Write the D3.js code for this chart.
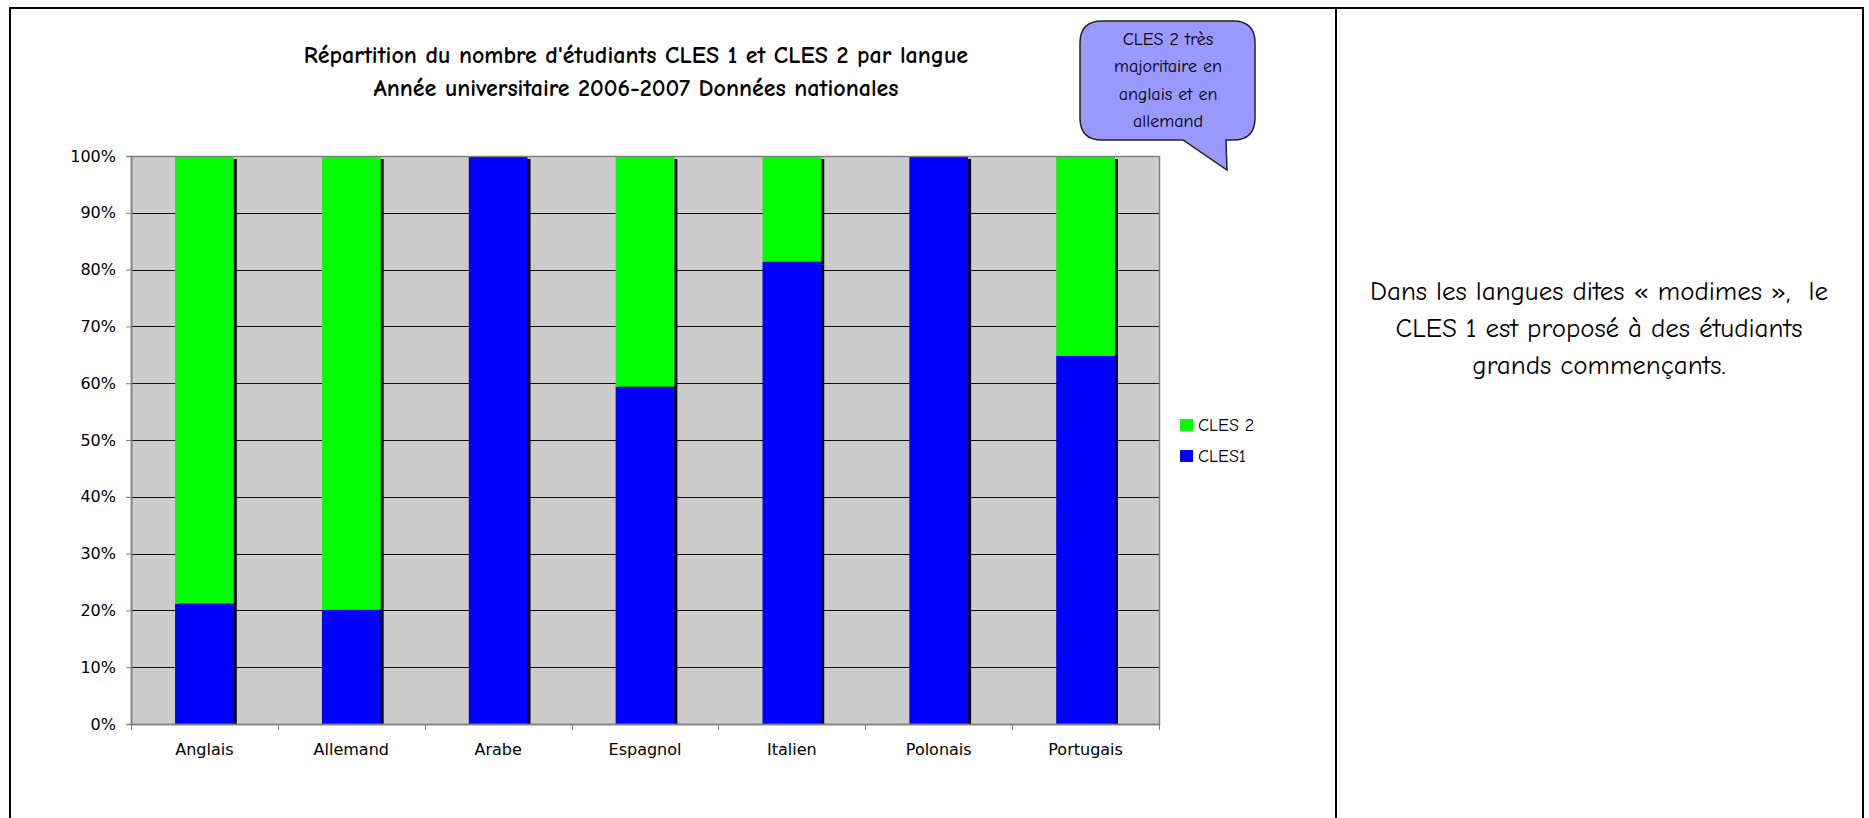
<!DOCTYPE html>
<html>
<head>
<meta charset="utf-8">
<script src="https://cdn.jsdelivr.net/npm/d3@7"></script>
<style>
  body { margin: 0; background: #fff; }
  svg { display: block; }
</style>
</head>
<body>
<div class="graph"></div>
<script>
// data (percent of students per language)
var languages = ["Anglais", "Allemand", "Arabe", "Espagnol", "Italien", "Polonais", "Portugais"];
var cles1 = [21.2, 20.1, 100, 59.4, 81.4, 100, 64.8];
var cles2 = [78.8, 79.9, 0, 40.6, 18.6, 0, 35.2];
var seriesKeys = ["CLES1", "CLES 2"];
var legendOrder = ["CLES 2", "CLES1"];
var yTickValues = [0, 10, 20, 30, 40, 50, 60, 70, 80, 90, 100];
var titleLines = ["Répartition du nombre d'étudiants CLES 1 et CLES 2 par langue",
                  "Année universitaire 2006-2007 Données nationales"];
var bubbleLines = ["CLES 2 très", "majoritaire en", "anglais et en", "allemand"];
var noteLines = ["Dans les langues dites « modimes »,  le",
                 "CLES 1 est proposé à des étudiants",
                 "grands commençants."];

var comic = "'Comic Sans MS', 'Comic Neue', 'Noto Sans', sans-serif";
var verdana = "Verdana, 'DejaVu Sans', sans-serif";
var colors = {"CLES1": "#0000ff", "CLES 2": "#00ff00"};

var svgWidth = 1869, svgHeight = 818;
var plot = {left: 131, right: 1159, top: 156, bottom: 724};

var rows = languages.map(function (l, i) {
    return {lang: l, "CLES1": cles1[i], "CLES 2": cles2[i]};
});

var svg = d3.select("div.graph").append("svg")
    .attr("width", svgWidth)
    .attr("height", svgHeight);

svg.append("rect").attr("width", svgWidth).attr("height", svgHeight).attr("fill", "#fff");

// page frame (table cells)
svg.append("path")
    .attr("d", "M10,830 V8 H1863 V830 M1336,8 V830")
    .attr("fill", "none")
    .attr("stroke", "#000")
    .attr("stroke-width", 2);

var x = d3.scaleBand()
    .domain(languages)
    .range([plot.left, plot.right])
    .paddingInner(0.6)
    .paddingOuter(0.3);

var y = d3.scaleLinear()
    .domain([0, 100])
    .range([plot.bottom, plot.top]);

// plot background
svg.append("rect")
    .attr("x", plot.left).attr("y", plot.top)
    .attr("width", plot.right - plot.left)
    .attr("height", plot.bottom - plot.top)
    .attr("fill", "#cccccc");

// gridlines
svg.append("g").selectAll("line")
    .data(yTickValues.filter(function (d) { return d > 0 && d < 100; }))
    .join("line")
    .attr("x1", plot.left).attr("x2", plot.right)
    .attr("y1", function (d) { return Math.round(y(d)) + 0.5; })
    .attr("y2", function (d) { return Math.round(y(d)) + 0.5; })
    .attr("stroke", "#111")
    .attr("stroke-width", 1);

svg.append("clipPath").attr("id", "plotclip")
    .append("rect")
    .attr("x", plot.left).attr("y", plot.top)
    .attr("width", plot.right - plot.left)
    .attr("height", plot.bottom - plot.top);

var stacked = d3.stack().keys(seriesKeys)(rows);

var segs = [];
stacked.forEach(function (s) {
    s.forEach(function (d) {
        if (d[1] - d[0] > 0) segs.push({key: s.key, lang: d.data.lang, y0: d[0], y1: d[1]});
    });
});

var bars = svg.append("g").attr("clip-path", "url(#plotclip)");

// shadows
bars.selectAll("rect.shadow")
    .data(segs)
    .join("rect")
    .attr("class", "shadow")
    .attr("x", function (d) { return x(d.lang) + 3; })
    .attr("y", function (d) { return y(d.y1) + 3; })
    .attr("width", x.bandwidth())
    .attr("height", function (d) { return y(d.y0) - y(d.y1); })
    .attr("fill", "#000");

bars.selectAll("rect.bar")
    .data(segs)
    .join("rect")
    .attr("class", "bar")
    .attr("x", function (d) { return x(d.lang); })
    .attr("y", function (d) { return y(d.y1); })
    .attr("width", x.bandwidth())
    .attr("height", function (d) { return y(d.y0) - y(d.y1); })
    .attr("fill", function (d) { return colors[d.key]; });

// plot border
svg.append("rect")
    .attr("x", plot.left + 0.5).attr("y", plot.top + 0.5)
    .attr("width", plot.right - plot.left)
    .attr("height", plot.bottom - plot.top)
    .attr("fill", "none")
    .attr("stroke", "#808080")
    .attr("stroke-width", 1.5);

// y axis
var yAxis = svg.append("g")
    .attr("transform", "translate(" + plot.left + ",0)")
    .call(d3.axisLeft(y).tickValues(yTickValues).tickFormat(function (d) { return d + "%"; })
        .tickSize(5).tickPadding(10));
yAxis.select(".domain").attr("stroke", "#808080").attr("stroke-width", 1.5);
yAxis.selectAll(".tick line").attr("stroke", "#808080");
yAxis.selectAll("text").attr("font-family", verdana).attr("font-size", 16).attr("fill", "#000");

// x axis: labels at band centres, ticks at band edges
var xAxis = svg.append("g")
    .attr("transform", "translate(0," + plot.bottom + ")")
    .call(d3.axisBottom(x).tickSize(0).tickPadding(20));
xAxis.select(".domain").attr("stroke", "#808080").attr("stroke-width", 1.5);
xAxis.selectAll("text").attr("font-family", verdana).attr("font-size", 16).attr("fill", "#000");

var edges = d3.range(languages.length + 1).map(function (i) {
    return x.range()[0] + i * x.step();
});
svg.append("g").selectAll("line")
    .data(edges)
    .join("line")
    .attr("x1", function (d) { return Math.round(d) + 0.5; })
    .attr("x2", function (d) { return Math.round(d) + 0.5; })
    .attr("y1", plot.bottom)
    .attr("y2", plot.bottom + 6)
    .attr("stroke", "#808080");

// title
svg.append("g").selectAll("text")
    .data(titleLines)
    .join("text")
    .attr("x", 636)
    .attr("y", function (d, i) { return 63 + i * 33; })
    .attr("text-anchor", "middle")
    .attr("font-family", comic)
    .attr("font-weight", "bold")
    .attr("font-size", 24)
    .text(function (d) { return d; });

// legend
var legend = svg.append("g").selectAll("g")
    .data(legendOrder)
    .join("g")
    .attr("transform", function (d, i) { return "translate(1180," + (419 + i * 31) + ")"; });
legend.append("rect")
    .attr("width", 13).attr("height", 12)
    .attr("fill", function (d) { return colors[d]; });
legend.append("text")
    .attr("x", 18).attr("y", 12)
    .attr("font-family", comic)
    .attr("font-size", 18)
    .text(function (d) { return d; });

// callout bubble
var bx0 = 1080, bx1 = 1255, by0 = 21, by1 = 140, r = 22;
var p = d3.path();
p.moveTo(bx0 + r, by0);
p.lineTo(bx1 - r, by0);
p.quadraticCurveTo(bx1, by0, bx1, by0 + r);
p.lineTo(bx1, by1 - r);
p.quadraticCurveTo(bx1, by1, bx1 - r, by1);
p.lineTo(1226, by1);
p.lineTo(1227, 170);
p.lineTo(1183, by1);
p.lineTo(bx0 + r, by1);
p.quadraticCurveTo(bx0, by1, bx0, by1 - r);
p.lineTo(bx0, by0 + r);
p.quadraticCurveTo(bx0, by0, bx0 + r, by0);
p.closePath();
svg.append("path")
    .attr("d", p.toString())
    .attr("fill", "#9999ff")
    .attr("stroke", "#222")
    .attr("stroke-width", 1.5);

svg.append("g").selectAll("text")
    .data(bubbleLines)
    .join("text")
    .attr("x", 1168)
    .attr("y", function (d, i) { return 45 + i * 27.3; })
    .attr("text-anchor", "middle")
    .attr("font-family", comic)
    .attr("font-size", 18)
    .text(function (d) { return d; });

// note on the right
svg.append("g").selectAll("text")
    .data(noteLines)
    .join("text")
    .attr("x", 1599)
    .attr("y", function (d, i) { return 300 + i * 37; })
    .attr("text-anchor", "middle")
    .attr("font-family", comic)
    .attr("font-size", 27)
    .attr("xml:space", "preserve")
    .style("white-space", "pre")
    .text(function (d) { return d; });
</script>
</body>
</html>
